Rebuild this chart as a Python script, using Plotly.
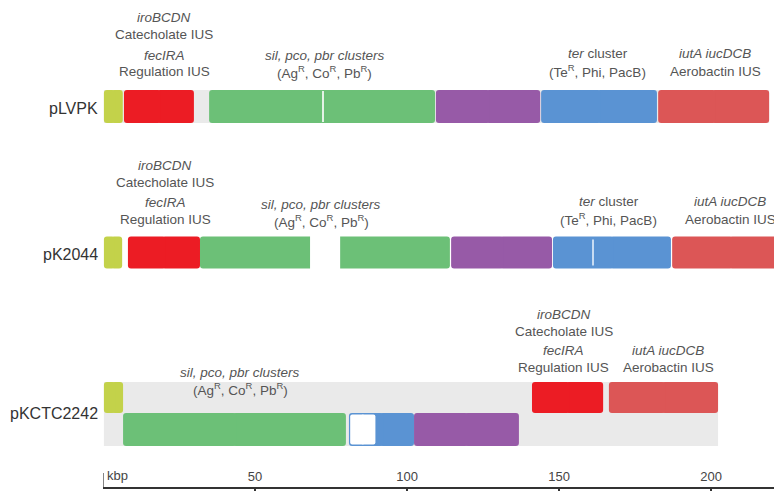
import plotly.graph_objects as go

# ---------------- data (kbp) ----------------
plasmids = ["pLVPK", "pK2044", "pKCTC2242"]

# backbone lanes (grey) : start, end
lvpk_backbone = [0.3, 219.1]
kctc_backbone_top = [0.3, 202.3]
kctc_backbone_bottom = [0.3, 202.3]

# segments: (start, end, module)
lvpk_segments = [
    (0.3, 6.5, "rep"), (6.9, 29.9, "iro_fec"), (34.9, 109.2, "sil_pco_pbr"),
    (109.5, 143.8, "mid"), (144.1, 182.2, "ter"), (182.6, 219.1, "iuc"),
]
k2044_segments = [
    (0.3, 6.3, "rep"), (8.2, 31.9, "iro_fec"), (31.9, 114.1, "sil_pco_pbr"),
    (114.5, 147.7, "mid"), (148.0, 186.8, "ter"), (187.2, 226.0, "iuc"),
]
kctc_top_segments = [
    (0.3, 6.6, "rep"), (141.1, 164.5, "iro_fec"), (166.4, 202.3, "iuc"),
]
kctc_bottom_segments = [
    (6.6, 79.9, "sil_pco_pbr"), (80.9, 102.3, "ter"), (102.3, 136.8, "mid"),
]
# regions absent within a module (white)
k2044_gaps = [(68.1, 78.0)]
kctc_gaps = [(81.3, 89.6)]
# thin breaks inside modules
lvpk_breaks = [(72.3, 72.55)]
k2044_breaks = [(161.0, 161.25)]

# axis ticks
tick_vals = [50, 100, 150, 200]
tick_text = ["50", "100", "150", "200"]
axis_unit = "kbp"

# label texts
iro_label = ["<i>iroBCDN</i>", "Catecholate IUS"]
fec_label = ["<i>fecIRA</i>", "Regulation IUS"]
sil_label = ["<i>sil, pco, pbr clusters</i>", "(Ag<sup>R</sup>, Co<sup>R</sup>, Pb<sup>R</sup>)"]
ter_label = ["<i>ter</i> cluster", "(Te<sup>R</sup>, Phi, PacB)"]
iuc_label = ["<i>iutA iucDCB</i>", "Aerobactin IUS"]

# ---------------- styles ----------------
colors = {
    "rep": "#C3D24A",
    "iro_fec": "#EC1C24",
    "sil_pco_pbr": "#6CC077",
    "mid": "#975AA7",
    "ter": "#5A93D3",
    "iuc": "#DC5656",
}
GREY = "#EAEAEA"
TXT = "#555555"
FONT = "Liberation Sans, Arial, sans-serif"

# vertical layout in px-from-top units (y axis reversed)
lane_y = {"lvpk": 106.5, "k2044": 252.5, "kctc_top": 397.5, "kctc_bot": 429.5}
lane_h = {"lvpk": 33, "k2044": 32, "kctc_top": 31, "kctc_bot": 33}

fig = go.Figure()


def add_flat(items, lane, color, hpad=0):
    fig.add_trace(go.Bar(
        orientation="h",
        base=[s for s, e in items], x=[e - s for s, e in items],
        y=[lane_y[lane]] * len(items), width=[lane_h[lane] + hpad] * len(items),
        marker=dict(color=color, line=dict(width=0)),
        hoverinfo="skip", showlegend=False))


def add_rounded(items, lane, radius=3, hpad=0):
    # each segment drawn as two halves so that both ends get rounded corners
    for s, e, mod in items:
        mid = (s + e) / 2
        ov = min(0.6, (e - s) / 4)
        for base, length in ((mid - ov, e - (mid - ov)), (mid + ov, s - (mid + ov))):
            fig.add_trace(go.Bar(
                orientation="h", base=[base], x=[length],
                y=[lane_y[lane]], width=[lane_h[lane] + hpad],
                marker=dict(color=colors.get(mod, mod),
                            line=dict(width=0), cornerradius=radius),
                hoverinfo="skip", showlegend=False))


# backgrounds
add_flat([tuple(lvpk_backbone)], "lvpk", GREY)
add_flat([tuple(kctc_backbone_top)], "kctc_top", GREY)
add_flat([tuple(kctc_backbone_bottom)], "kctc_bot", GREY)

# modules
add_rounded(lvpk_segments, "lvpk")
add_rounded(k2044_segments, "k2044")
add_rounded(kctc_top_segments, "kctc_top")
add_rounded(kctc_bottom_segments, "kctc_bot")

# gaps
add_flat(k2044_gaps, "k2044", "white", hpad=1)
add_rounded([(s, e, "white") for s, e in kctc_gaps], "kctc_bot", radius=2, hpad=-3)
add_flat(lvpk_breaks, "lvpk", "#E4F2E6", hpad=-2)
add_flat(k2044_breaks, "k2044", "#C8DCF2", hpad=-6)

annotations = []


def label(text, x, y, size=13.5, xanchor="center", color=TXT, xref="x"):
    annotations.append(dict(text=text, x=x, y=y, xref=xref, yref="y",
                            showarrow=False, xanchor=xanchor, yanchor="middle",
                            font=dict(size=size, color=color, family=FONT)))


# row 1 labels
label(iro_label[0], 20.1, 17); label(iro_label[1], 20.1, 34)
label(fec_label[0], 20.1, 55); label(fec_label[1], 20.1, 71)
label(sil_label[0], 73.0, 55); label(sil_label[1], 73.0, 72)
label(ter_label[0], 162.8, 53); label(ter_label[1], 162.8, 71)
label(iuc_label[0], 201.3, 53); label(iuc_label[1], 201.3, 71)
# row 2 labels
label(iro_label[0], 20.4, 165); label(iro_label[1], 20.4, 182)
label(fec_label[0], 20.4, 202); label(fec_label[1], 20.4, 219)
label(sil_label[0], 71.8, 204); label(sil_label[1], 71.8, 221)
label(ter_label[0], 166.4, 201); label(ter_label[1], 166.4, 219)
label(iuc_label[0], 206.3, 201); label(iuc_label[1], 206.3, 219)
# row 3 labels
label(iro_label[0], 151.6, 314); label(iro_label[1], 151.6, 331)
label(fec_label[0], 151.6, 350); label(fec_label[1], 151.6, 367)
label(iuc_label[0], 185.9, 350); label(iuc_label[1], 185.9, 367)
label(sil_label[0], 45.2, 372); label(sil_label[1], 45.2, 389)

# plasmid names (left of the axis range -> paper coordinates)
for name, yy in zip(plasmids, [108, 254, 413]):
    label(name, -3 / 671, yy, size=16, xanchor="right", color="#333333", xref="paper")

# axis unit
label(axis_unit, 0.7, 475, size=13, xanchor="left", color="#444444")

fig.update_layout(
    annotations=annotations,
    width=774, height=491,
    margin=dict(l=103, r=0, t=0, b=4),
    paper_bgcolor="white", plot_bgcolor="white",
    barmode="overlay",
    shapes=[dict(type="line", xref="x", yref="y", x0=0, x1=0, y0=473, y1=487,
                 line=dict(color="#333333", width=1.2))],
    xaxis=dict(range=[0, 220.7], showgrid=False, zeroline=False,
               showline=True, linecolor="#333333", linewidth=1.5,
               tickvals=tick_vals, ticktext=tick_text,
               ticks="outside", ticklen=5, tickcolor="#333333", tickwidth=1.5,
               ticklabelposition="inside", ticklabelstandoff=3,
               tickfont=dict(size=13, color="#444444", family=FONT),
               fixedrange=True),
    yaxis=dict(range=[487, 0], visible=False, showgrid=False, zeroline=False,
               fixedrange=True),
)

fig.write_html("out.html", config={"displayModeBar": False},
               post_script="document.body.style.margin='0';document.body.style.padding='0';")
